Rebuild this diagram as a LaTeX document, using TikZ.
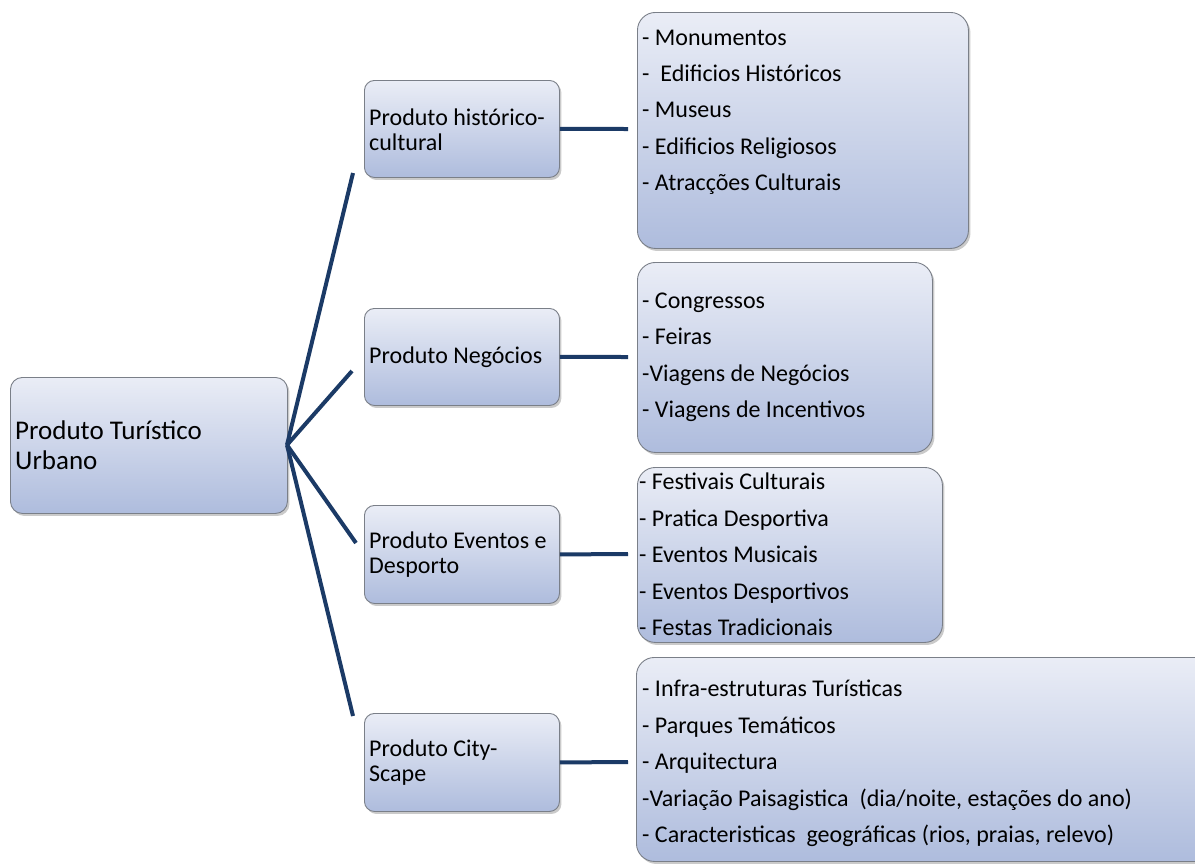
\documentclass[tikz,border=0pt]{standalone}
\usepackage{fontspec}
\setmainfont{Carlito}
\usetikzlibrary{shadows}
\definecolor{navy}{HTML}{1B3A66}
\definecolor{boxtop}{HTML}{EAEDF6}
\definecolor{boxbot}{HTML}{AEBCDD}
\definecolor{boxline}{HTML}{7A7F88}
\tikzset{
  card/.style={draw=boxline, line width=0.9pt, top color=boxtop, bottom color=boxbot,
    drop shadow={shadow xshift=2pt, shadow yshift=-2.5pt, opacity=0.35, fill=black!60},
    inner sep=0pt, anchor=north west},
  link/.style={draw=navy, line width=4pt},
  rootlbl/.style={font=\fontsize{27}{30}\selectfont, align=left, inner sep=0pt, anchor=west},
  midlbl/.style={font=\fontsize{24}{25}\selectfont, align=left, inner sep=0pt, anchor=west},
  itemlbl/.style={font=\fontsize{24}{36.4}\selectfont, align=left, inner sep=0pt, anchor=north west},
}
\begin{document}
\begin{tikzpicture}[x=1pt,y=-1pt]
\useasboundingbox (0,0) rectangle (1195,865);
% root
\node[card, rounded corners=12pt, minimum width=277pt, minimum height=136pt] (root) at (10,377) {};
\node[rootlbl] (roott) at (15,445) {Produto Turístico\\Urbano};
% level 2 boxes
\node[card, rounded corners=10pt, minimum width=195pt, minimum height=97pt] (p1) at (364,80) {};
\node[card, rounded corners=10pt, minimum width=195pt, minimum height=97pt] (p2) at (364,308) {};
\node[card, rounded corners=10pt, minimum width=195pt, minimum height=98pt] (p3) at (364,505) {};
\node[card, rounded corners=10pt, minimum width=195pt, minimum height=98pt] (p4) at (364,713) {};
\node[midlbl] (p1t) at (369,129.5) {Produto histórico-\\cultural};
\node[midlbl] (p2t) at (369,357) {Produto Negócios};
\node[midlbl] (p3t) at (369,554.5) {Produto Eventos e\\Desporto};
\node[midlbl] (p4t) at (369,762.5) {Produto City-\\Scape};
% level 3 boxes
\node[card, rounded corners=18pt, minimum width=331pt, minimum height=236pt] (q1) at (637,12) {};
\node[card, rounded corners=18pt, minimum width=295pt, minimum height=190pt] (q2) at (637,262) {};
\node[card, rounded corners=18pt, minimum width=305pt, minimum height=175pt] (q3) at (637,467) {};
\node[card, rounded corners=18pt, minimum width=580pt, minimum height=204pt] (q4) at (636,657) {};
\node[itemlbl] (q1t) at (642,29.5) {- Monumentos\\-\ \ Edificios Históricos\\- Museus\\- Edificios Religiosos\\- Atracções Culturais};
\node[itemlbl] (q2t) at (642,292.5) {- Congressos\\- Feiras\\-Viagens de Negócios\\- Viagens de Incentivos};
\node[itemlbl] (q3t) at (639,473) {- Festivais Culturais\\- Pratica Desportiva\\- Eventos Musicais\\- Eventos Desportivos\\- Festas Tradicionais};
\node[itemlbl] (q4t) at (642,680) {- Infra-estruturas Turísticas\\- Parques Temáticos\\- Arquitectura\\-Variação Paisagistica\ \ (dia/noite, estações do ano)\\- Caracteristicas\ \ geográficas (rios, praias, relevo)};
% connector ends
\coordinate (e1) at (353,173);
\coordinate (e2) at (352,371);
\coordinate (e3) at (356,543);
\coordinate (e4) at (353,716);
\coordinate (h1) at (628,129);
\coordinate (h2) at (628,357);
\coordinate (h3) at (628,554);
\coordinate (h4) at (628,762);
\coordinate (hub) at (287,445);
\draw[link] (hub) -- (e1);
\draw[link] (hub) -- (e2);
\draw[link] (hub) -- (e3);
\draw[link] (hub) -- (e4);
\draw[link] (p1.east) -- (h1);
\draw[link] (p2.east) -- (h2);
\draw[link] (p3.east) -- (h3);
\draw[link] (p4.east) -- (h4);
\end{tikzpicture}
\end{document}
